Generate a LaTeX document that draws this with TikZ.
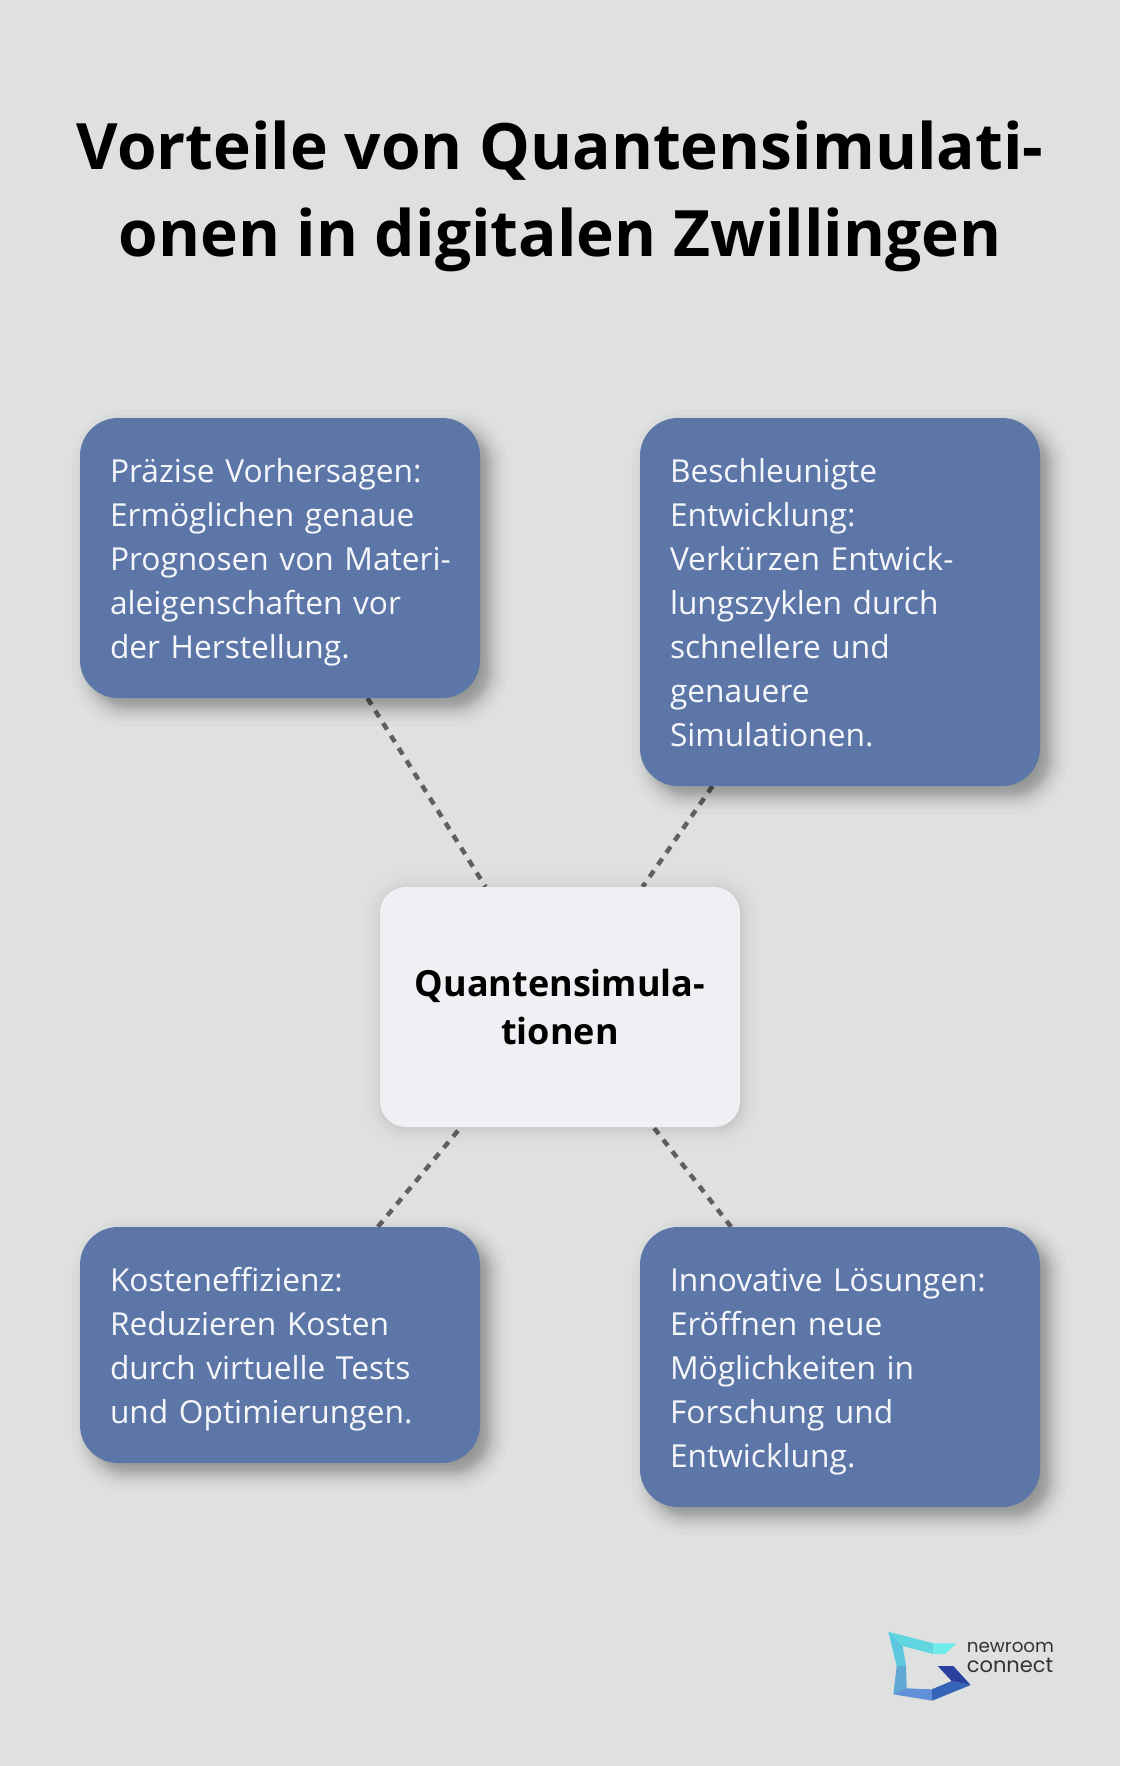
\documentclass[tikz,border=0pt]{standalone}
\usepackage{fontspec}
\setmainfont{Open Sans}
\newfontfamily\logofont{Poppins}
\usetikzlibrary{backgrounds}
\definecolor{pagegrey}{HTML}{DFE1E1}
\definecolor{boxblue}{HTML}{5D76A8}
\definecolor{boxlight}{HTML}{EFF0F3}
\definecolor{dashgrey}{HTML}{606060}
\tikzset{
  bluebox/.style={fill=boxblue,text=white!94!boxblue,rounded corners=38pt,minimum width=400pt,
    text width=340pt,align=left,inner xsep=0pt,inner ysep=30pt,font=\fontsize{31.7}{44}\selectfont,
    execute at begin node={\rule{0pt}{34.8pt}},execute at end node={\rule[-9.2pt]{0pt}{9.2pt}}},
  midbox/.style={fill=boxlight,text=black,rounded corners=26pt,minimum width=360pt,minimum height=240pt,
    text width=340pt,align=center,inner sep=0pt,font=\fontsize{36}{48}\selectfont\bfseries},
  link/.style={draw=dashgrey,line width=4.5pt,dash pattern=on 7.5pt off 7.2pt},
}
% soft shadow: name, radius, offset, strength
\newcommand{\softshadow}[4]{
  \foreach \s in {-18,-13,-10,-8,-6,-4,-3,-2,-1,0,1,2,3,4,6,8,10,13,18}{
    \pgfmathsetmacro{\rr}{max(#2+\s,4)}
    \fill[black,opacity=#4,rounded corners=\rr pt]
      ([shift={({#3 pt-\s pt},{-#3 pt+\s pt})}]#1.north west) rectangle ([shift={({#3 pt+\s pt},{-#3 pt-\s pt})}]#1.south east);
  }
}
\begin{document}
\begin{tikzpicture}[x=1pt,y=-1pt]
\useasboundingbox (0,0) rectangle (1120,1766);
\node[font=\fontsize{64}{87}\selectfont\bfseries,align=center,text=black] (title) at (560,196)
  {Vorteile von Quantensimulati-\\onen in digitalen Zwillingen};
\node[bluebox] (vorhersagen) at (280,558)
  {Präzise Vorhersagen:\\Ermöglichen genaue\\\mbox{Prognosen von Materi-}\\aleigenschaften vor\\der Herstellung.};
\node[bluebox] (entwicklung) at (840,602)
  {Beschleunigte\\Entwicklung:\\Verkürzen Entwick-\\lungszyklen durch\\schnellere und\\genauere\\Simulationen.};
\node[midbox] (quanten) at (560,1007) {Quantensimula-\\tionen};
\node[bluebox] (kosten) at (280,1345)
  {Kosteneffizienz:\\Reduzieren Kosten\\durch virtuelle Tests\\und Optimierungen.};
\node[bluebox] (loesungen) at (840,1367)
  {Innovative Lösungen:\\Eröffnen neue\\Möglichkeiten in\\Forschung und\\Entwicklung.};
\begin{scope}[on background layer]
\fill[pagegrey] (0,0) rectangle (1120,1766);
\draw[link] (vorhersagen) -- (quanten);
\draw[link] (entwicklung) -- (quanten);
\draw[link] (kosten) -- (quanten);
\draw[link] (loesungen) -- (quanten);
\softshadow{vorhersagen}{38}{10}{0.018}
\softshadow{entwicklung}{38}{10}{0.018}
\softshadow{kosten}{38}{10}{0.018}
\softshadow{loesungen}{38}{10}{0.018}
\softshadow{quanten}{26}{2}{0.006}
\end{scope}
% logo
\begin{scope}[shift={(860,1610)},x=0.3333pt,y=-0.3333pt]
\fill[color={rgb,255:red,95;green,214;blue,224}] (85,65) -- (220,100) -- (220,132) -- (128,108) -- cycle;
\fill[color={rgb,255:red,111;green,236;blue,236}] (220,100) -- (290,100) -- (255,132) -- (220,132) -- cycle;
\fill[color={rgb,255:red,92;green,200;blue,224}] (85,65) -- (128,108) -- (138,168) -- (110,168) -- cycle;
\fill[color={rgb,255:red,98;green,168;blue,212}] (110,168) -- (138,168) -- (140,235) -- (100,253) -- cycle;
\fill[color={rgb,255:red,96;green,144;blue,216}] (100,253) -- (140,235) -- (215,238) -- (217,272) -- cycle;
\fill[color={rgb,255:red,53;green,101;blue,184}] (215,238) -- (275,213) -- (332,225) -- (217,272) -- cycle;
\fill[color={rgb,255:red,42;green,63;blue,158}] (233,168) -- (280,168) -- (332,225) -- (275,213) -- cycle;
\node[anchor=west,inner sep=0pt,font=\logofont\fontsize{18.3}{20}\selectfont,align=left,text=black!80] (logo) at (320,143)
  {newroom\\{\fontsize{21}{20}\selectfont connect}};
\end{scope}
\end{tikzpicture}
\end{document}
